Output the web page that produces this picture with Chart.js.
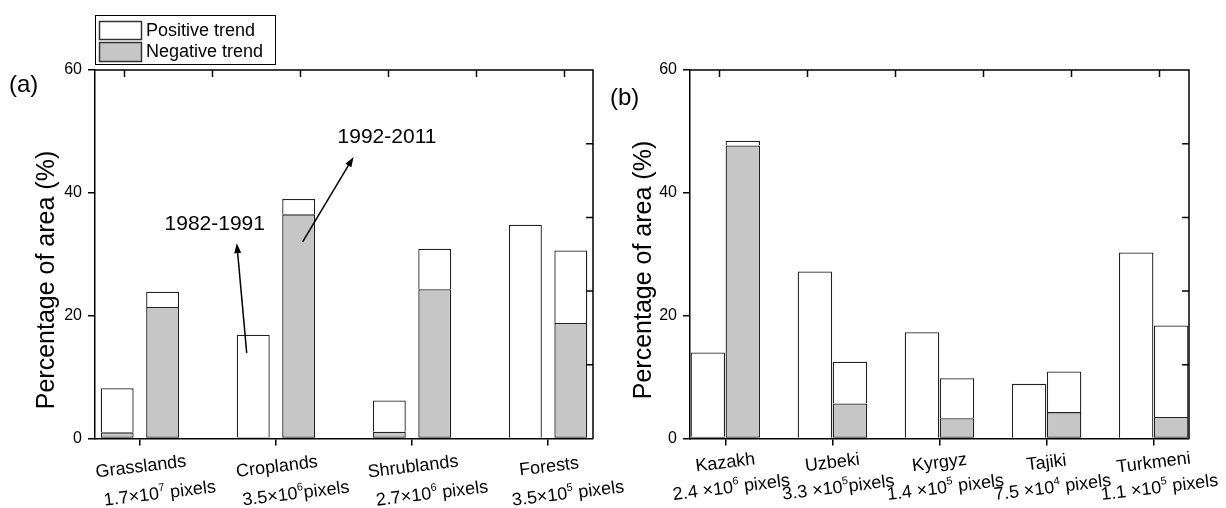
<!DOCTYPE html>
<html>
<head>
<meta charset="utf-8">
<script src="https://cdn.jsdelivr.net/npm/chart.js@4.4.0/dist/chart.umd.min.js"></script>
<style>
  body { margin: 0; background: #fff; }
  #wrap { position: relative; width: 1226px; height: 508px; overflow: hidden; }
  canvas { position: absolute; top: 0; }
  #chartA { left: 0; }
  #chartB { left: 600px; }
</style>
</head>
<body>
<div id="wrap">
  <canvas id="chartA" width="645" height="508"></canvas>
  <canvas id="chartB" width="626" height="508"></canvas>
</div>
<script>
// (a) land cover types
const landCovers = ['Grasslands', 'Croplands', 'Shrublands', 'Forests'];
const landPixels = ['1.7×10^7 pixels', '3.5×10^6pixels', '2.7×10^6 pixels', '3.5×10^5 pixels'];
// % of area: negative trend (grey) and positive trend (white), 1982-1991 then 1992-2011
const landNeg1 = [1.0, 0.2, 1.1, 0];
const landPos1 = [7.2, 16.7, 5.1, 34.8];
const landNeg2 = [21.4, 36.5, 24.3, 18.8];
const landPos2 = [2.5, 2.5, 6.6, 11.8];

// (b) countries
const countries = ['Kazakh', 'Uzbeki', 'Kyrgyz', 'Tajiki', 'Turkmeni'];
const countryPixels = ['2.4 ×10^6 pixels', '3.3 ×10^5pixels', '1.4 ×10^5 pixels', '7.5 ×10^4 pixels', '1.1 ×10^5 pixels'];
const countryNeg1 = [0.3, 0, 0, 0, 0];
const countryPos1 = [13.7, 27.2, 17.3, 8.9, 30.3];
const countryNeg2 = [47.7, 5.7, 3.3, 4.3, 3.5];
const countryPos2 = [0.8, 6.8, 6.5, 6.6, 14.9];

const yTicks = [0, 20, 40, 60];
const rightTicks = [12, 24, 36, 48];

// period annotations in panel (a), data units
const periodNotes = [
  {text: '1982-1991', at: [0.55, 34.9], from: [0.785, 13.9], to: [0.712, 31.8]},
  {text: '1992-2011', at: [1.816, 49.0], from: [1.196, 32.0], to: [1.57, 45.85]}
];

const FONT = '"Liberation Sans", Arial, sans-serif';
const GREY = '#c6c6c6';
const EDGE = '#222';

function richParts(str) {
  const m = str.match(/^(.*?)\^(\d+)(.*)$/);
  if (!m) return [{t: str}];
  return [{t: m[1]}, {t: m[2], sup: true}, {t: m[3]}];
}

function drawRich(ctx, str, cx, cy, angle) {
  const parts = richParts(str);
  let w = 0;
  parts.forEach(p => {
    ctx.font = (p.sup ? '11px ' : '18px ') + FONT;
    p.w = ctx.measureText(p.t).width;
    w += p.w;
  });
  ctx.save();
  ctx.translate(cx, cy);
  ctx.rotate(angle);
  ctx.textAlign = 'left';
  ctx.textBaseline = 'middle';
  let x = -w / 2;
  parts.forEach(p => {
    ctx.font = (p.sup ? '11px ' : '18px ') + FONT;
    ctx.fillText(p.t, x, p.sup ? -6 : 0);
    x += p.w;
  });
  ctx.restore();
}

function arrow(ctx, x1, y1, x2, y2) {
  const ang = Math.atan2(y2 - y1, x2 - x1);
  const c = Math.cos(ang), s = Math.sin(ang);
  const hl = 10, hw = 3.5;
  ctx.beginPath();
  ctx.moveTo(x1, y1);
  ctx.lineTo(x2 - hl * 0.7 * c, y2 - hl * 0.7 * s);
  ctx.stroke();
  ctx.beginPath();
  ctx.moveTo(x2, y2);
  ctx.lineTo(x2 - hl * c + hw * s, y2 - hl * s - hw * c);
  ctx.lineTo(x2 - hl * c - hw * s, y2 - hl * s + hw * c);
  ctx.closePath();
  ctx.fill();
}

const frame = {
  id: 'frame',
  afterDraw(chart, args, o) {
    const {ctx, chartArea: a} = chart;
    const x = chart.scales.x, y = chart.scales.y;
    ctx.save();
    ctx.strokeStyle = '#000';
    ctx.fillStyle = '#000';
    ctx.lineWidth = 1.5;

    // top and right axes with inward ticks
    ctx.beginPath();
    ctx.moveTo(a.left, a.top);
    ctx.lineTo(a.right, a.top);
    ctx.lineTo(a.right, a.bottom);
    for (let px = a.left + 29.5; px < a.right - 5; px += 88) {
      ctx.moveTo(px, a.top);
      ctx.lineTo(px, a.top + 7);
    }
    rightTicks.forEach(v => {
      const py = y.getPixelForValue(v);
      ctx.moveTo(a.right, py);
      ctx.lineTo(a.right - 7, py);
    });
    ctx.stroke();

    // category labels, slightly tilted
    const tilt = -7 * Math.PI / 180;
    o.cats.forEach((c, i) => {
      const px = x.getPixelForValue(i);
      drawRich(ctx, c, px + o.dx1, o.y1, tilt);
      drawRich(ctx, o.pix[i], px + o.dx2, o.y2, tilt);
    });

    // y title
    ctx.save();
    ctx.translate(o.titleX, o.titleY);
    ctx.rotate(-Math.PI / 2);
    ctx.font = '25px ' + FONT;
    ctx.textAlign = 'center';
    ctx.textBaseline = 'middle';
    ctx.fillText('Percentage of area (%)', 0, 0);
    ctx.restore();

    // panel tag
    ctx.font = '24px ' + FONT;
    ctx.textAlign = 'left';
    ctx.textBaseline = 'middle';
    ctx.fillText(o.tag, o.tagX, o.tagY);

    if (o.legend) {
      ctx.lineWidth = 1;
      ctx.strokeRect(95.5, 15.5, 180, 49);
      ctx.lineWidth = 1.5;
      ctx.strokeStyle = '#333';
      ctx.fillStyle = '#fff';
      ctx.fillRect(99.5, 21.5, 42, 18);
      ctx.strokeRect(99.5, 21.5, 42, 18);
      ctx.fillStyle = GREY;
      ctx.fillRect(99.5, 42.5, 42, 19);
      ctx.strokeRect(99.5, 42.5, 42, 19);
      ctx.fillStyle = '#000';
      ctx.font = '18px ' + FONT;
      ctx.fillText('Positive trend', 146, 31);
      ctx.fillText('Negative trend', 146, 52);
    }

    if (o.notes) {
      ctx.strokeStyle = '#000';
      ctx.fillStyle = '#000';
      ctx.lineWidth = 1.5;
      ctx.font = '21px ' + FONT;
      ctx.textAlign = 'center';
      o.notes.forEach(n => {
        ctx.fillText(n.text, x.getPixelForValue(n.at[0]), y.getPixelForValue(n.at[1]));
        arrow(ctx, x.getPixelForValue(n.from[0]), y.getPixelForValue(n.from[1]),
          x.getPixelForValue(n.to[0]), y.getPixelForValue(n.to[1]));
      });
    }
    ctx.restore();
  }
};

function buildChart(id, neg1, pos1, neg2, pos2, p) {
  const pts = arr => arr.map((v, i) => ({x: i, y: v}));
  // white segments sit on the grey ones, so skip their bottom edge
  const ds = (data, stack, fill, skip) => ({
    data: pts(data),
    stack: stack,
    backgroundColor: fill,
    borderColor: EDGE,
    borderWidth: 1.3,
    borderSkipped: skip,
    categoryPercentage: p.catPct,
    barPercentage: p.barPct
  });
  return new Chart(document.getElementById(id), {
    type: 'bar',
    data: {
      datasets: [
        ds(neg1, 'p1', GREY, false), ds(pos1, 'p1', '#fff', 'start'),
        ds(neg2, 'p2', GREY, false), ds(pos2, 'p2', '#fff', 'start')
      ]
    },
    options: {
      responsive: false,
      animation: false,
      layout: {padding: {left: 0, top: 70, right: p.padRight, bottom: 0}},
      plugins: {legend: {display: false}, tooltip: {enabled: false}, frame: p},
      scales: {
        x: {
          type: 'linear',
          min: -0.33,
          max: p.cats.length - 1 + 0.33,
          offset: false,
          afterBuildTicks: ax => { ax.ticks = p.cats.map((c, i) => ({value: i})); },
          afterFit: ax => { ax.height = 69.5; },
          grid: {display: true, drawOnChartArea: false, drawTicks: true, tickLength: 7, color: '#000', lineWidth: 1.5, offset: false},
          border: {display: true, color: '#000', width: 1.5},
          ticks: {display: false}
        },
        y: {
          stacked: true,
          min: 0,
          max: 60,
          afterBuildTicks: ax => { ax.ticks = yTicks.map(v => ({value: v})); },
          afterFit: ax => { ax.width = p.axisLeft; },
          grid: {drawOnChartArea: false, drawTicks: true, tickLength: 7, color: '#000', lineWidth: 1.5},
          border: {display: true, color: '#000', width: 1.5},
          ticks: {font: {family: FONT, size: 16}, color: '#000', padding: 6}
        }
      }
    },
    plugins: [frame]
  });
}

buildChart('chartA', landNeg1, landPos1, landNeg2, landPos2, {
  cats: landCovers, pix: landPixels,
  axisLeft: 95, padRight: 52, catPct: 0.668, barPct: 0.725,
  dx1: 1, y1: 467, dx2: 20, y2: 494,
  titleX: 47, titleY: 280, tag: '(a)', tagX: 9, tagY: 85,
  legend: true, notes: periodNotes
});

buildChart('chartB', countryNeg1, countryPos1, countryNeg2, countryPos2, {
  cats: countries, pix: countryPixels,
  axisLeft: 90, padRight: 37, catPct: 0.654, barPct: 0.985,
  dx1: 0, y1: 463, dx2: 6, y2: 488,
  titleX: 44, titleY: 270, tag: '(b)', tagX: 10, tagY: 98,
  legend: false, notes: null
});
</script>
</body>
</html>
